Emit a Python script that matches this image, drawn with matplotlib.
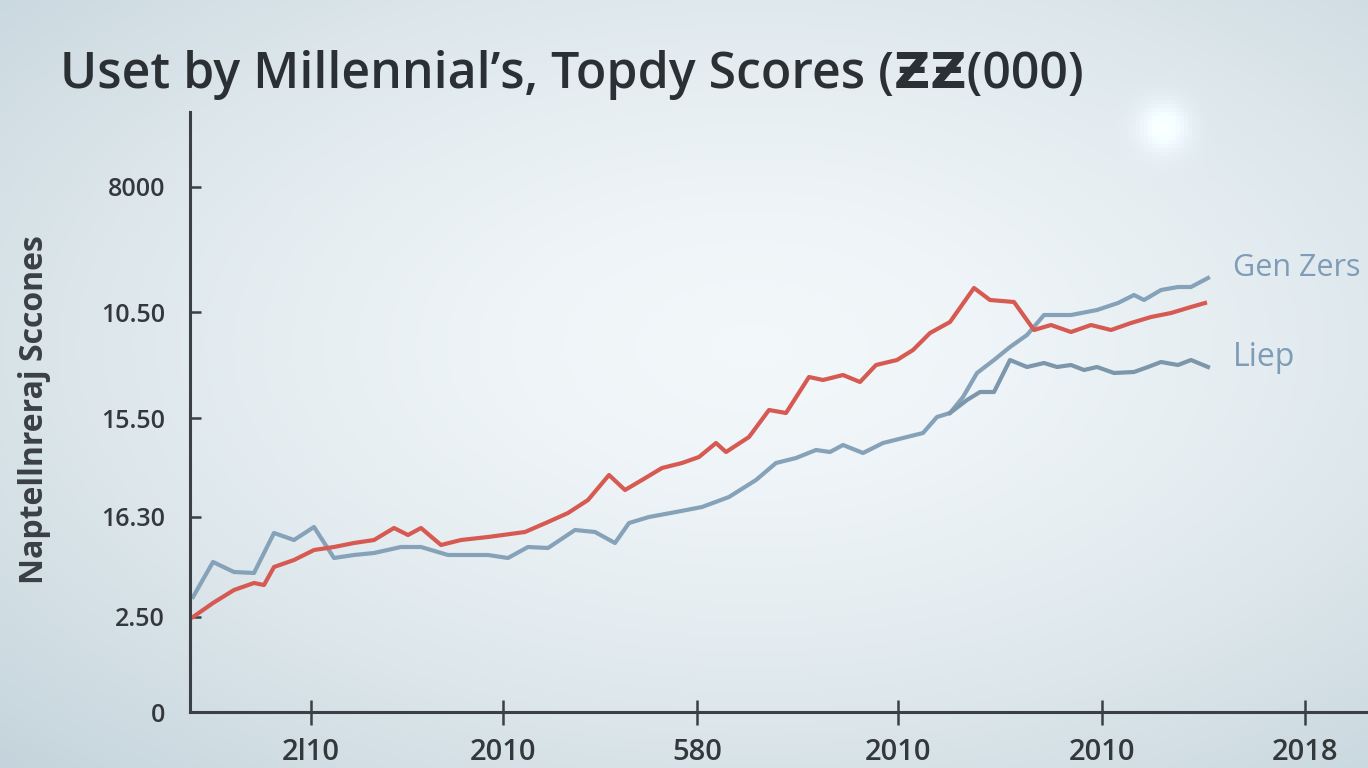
import numpy as np
import matplotlib.pyplot as plt

# ---- data ----
red_x = [0.3, 2.3, 4.4, 6.4, 7.4, 8.4, 10.4, 12.4, 14.4, 16.4, 18.4, 20.4, 21.8, 23.1, 25.1,
         27.1, 29.8, 33.5, 35.8, 37.8, 39.8, 41.9, 43.5, 45.2, 47.2, 49.2, 50.9, 52.6, 53.6,
         55.9, 57.9, 59.6, 61.9, 63.3, 65.3, 67.0, 68.6, 70.7, 72.3, 74.0, 76.0, 78.4, 80.0,
         82.4, 84.4, 86.1, 88.1, 90.1, 92.1, 94.1, 96.1, 98.1, 100.1, 101.5]
red_y = [0.95, 1.09, 1.22, 1.29, 1.27, 1.45, 1.52, 1.62, 1.65, 1.69, 1.72, 1.84, 1.77, 1.84, 1.67,
         1.72, 1.75, 1.80, 1.90, 1.99, 2.12, 2.37, 2.22, 2.32, 2.44, 2.49, 2.55, 2.69, 2.60,
         2.75, 3.02, 2.99, 3.35, 3.32, 3.37, 3.30, 3.47, 3.52, 3.62, 3.79, 3.90, 4.24, 4.12,
         4.10, 3.82, 3.87, 3.80, 3.87, 3.82, 3.89, 3.95, 3.99, 4.05, 4.09]

# blue part shared by both blue lines
blue_x = [0.3, 2.3, 4.4, 6.4, 8.4, 10.4, 12.4, 14.4, 16.4, 18.4, 21.1, 23.1, 25.8, 27.8, 29.8,
          31.8, 33.8, 35.8, 38.5, 40.5, 42.5, 43.9, 45.9, 48.6, 51.2, 53.9, 56.6, 58.6, 60.6,
          62.6, 64.0, 65.3, 67.3, 69.3, 71.3, 73.3, 74.7, 76.0]
blue_y = [1.15, 1.50, 1.40, 1.39, 1.79, 1.72, 1.85, 1.54, 1.57, 1.59, 1.65, 1.65, 1.57, 1.57, 1.57,
          1.54, 1.65, 1.64, 1.82, 1.80, 1.69, 1.89, 1.95, 2.00, 2.05, 2.15, 2.32, 2.49, 2.54,
          2.62, 2.60, 2.67, 2.59, 2.69, 2.74, 2.79, 2.95, 2.99]

genz_x = [77.3, 78.7, 80.4, 82.0, 83.7, 85.4, 88.1, 90.7, 92.8, 94.4, 95.4, 97.1, 98.8, 100.1, 101.8]
genz_y = [3.15, 3.39, 3.52, 3.65, 3.77, 3.97, 3.97, 4.02, 4.09, 4.17, 4.12, 4.22, 4.25, 4.25, 4.34]

liep_x = [77.7, 79.0, 80.4, 82.0, 83.7, 85.4, 86.7, 88.1, 89.4, 90.7, 92.4, 94.4, 95.8, 97.1, 98.8, 100.1, 101.8]
liep_y = [3.12, 3.20, 3.20, 3.52, 3.45, 3.49, 3.45, 3.47, 3.42, 3.45, 3.39, 3.40, 3.45, 3.50, 3.47, 3.52, 3.45]

ytick_pos = [0, 0.95, 1.95, 2.94, 4.0, 5.25]
ytick_lab = ['0', '2.50', '16.30', '15.50', '10.50', '8000']
xtick_pos = [12.1, 31.3, 50.7, 70.8, 91.2, 111.5]
xtick_lab = ['2l10', '2010', '580', '2010', '2010', '2018']

W, H = 1368, 768
fig = plt.figure(figsize=(W / 100, H / 100), dpi=100)

# soft background gradient with a faint glare spot
bg = fig.add_axes([0, 0, 1, 1], zorder=-10)
gx, gy = np.meshgrid(np.linspace(0, 1, 342), np.linspace(0, 1, 192))
r = np.sqrt(((gx - 0.55) / 0.9) ** 2 + ((gy - 0.45) / 0.9) ** 2)
v = np.clip(1 - 0.35 * r ** 1.6, 0, 1)
v = (v - v.min()) / (v.max() - v.min())
glare = 0.10 * np.exp(-(((gx - 0.852) * 1368) ** 2 + ((gy - 0.163) * 768) ** 2) / (2 * 18 ** 2))
c0 = np.array([0.77, 0.83, 0.86])
c1 = np.array([0.95, 0.97, 0.98])
img = c0 + (c1 - c0) * v[..., None]
img = np.clip(img + glare[..., None], 0, 1)
bg.imshow(img, extent=[0, 1, 0, 1], aspect='auto', origin='upper')
bg.axis('off')

ax = fig.add_axes([190 / W, (H - 712) / H, 1 - 190 / W, 600 / H])
ax.patch.set_alpha(0)

red = '#d65a52'
blue = '#86a2b9'
ax.plot(blue_x + genz_x, blue_y + genz_y, color=blue, lw=3)
ax.plot(blue_x[-1:] + liep_x, blue_y[-1:] + liep_y, color='#7c96ab', lw=3)
ax.plot(red_x, red_y, color=red, lw=3)

ax.set_xlim(0, 117.8)
ax.set_ylim(0, 6.0)
ax.set_yticks(ytick_pos, ytick_lab)
ax.set_xticks(xtick_pos, xtick_lab)

for s in ['top', 'right']:
    ax.spines[s].set_visible(False)
for s in ['left', 'bottom']:
    ax.spines[s].set_color('#3a4046')
    ax.spines[s].set_linewidth(2.2)

ax.tick_params(axis='y', direction='in', length=8, width=1.8, color='#3a4046',
               labelsize=18, labelcolor='#33383c', pad=18)
ax.tick_params(axis='x', direction='inout', length=18, width=1.8, color='#3a4046',
               labelsize=21, labelcolor='#33383c', pad=10)
for t in ax.get_xticklabels() + ax.get_yticklabels():
    t.set_fontfamily('Open Sans')
    t.set_fontweight('semibold')

ax.text(104.3, 4.44, 'Gen Zers', color='#7e9cb8', fontsize=22,
        fontfamily='Open Sans', va='center', ha='left', clip_on=False)
ax.text(104.3, 3.54, 'Liep', color='#7e9cb8', fontsize=23,
        fontfamily='Open Sans', va='center', ha='left', clip_on=False)

fig.text(60 / W, 1 - 88 / H, "Uset by Millennial\u2019s, Topdy Scores (\u01b5\u01b5(000)",
         fontsize=36, fontweight='semibold', family=['Open Sans', 'DejaVu Sans'], color='#2b3034',
         va='baseline', ha='left')
fig.text(35 / W, 1 - 410 / H, 'Naptellnreraj Sccones', rotation=90, fontsize=23,
         fontweight='bold', fontfamily='Open Sans', color='#3a4046', va='center', ha='center')

fig.savefig('out.png', dpi=100)
